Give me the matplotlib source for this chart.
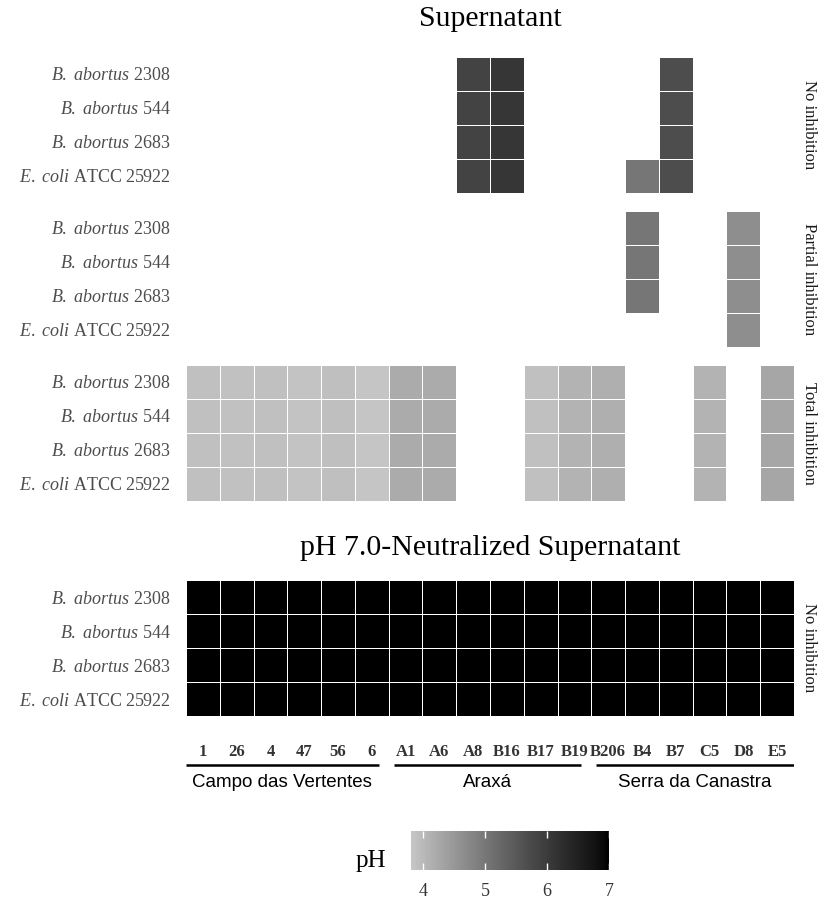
import numpy as np
import matplotlib
matplotlib.use("Agg")
import matplotlib.pyplot as plt
from matplotlib.colors import ListedColormap, Normalize

plt.rcParams['font.family'] = ['Liberation Serif', 'DejaVu Serif']
plt.rcParams['mathtext.fontset'] = 'custom'
plt.rcParams['mathtext.rm'] = 'Liberation Serif'
plt.rcParams['mathtext.it'] = 'Liberation Serif:italic'

# isolates (columns) and their origin
isolates = ["1", "26", "4", "47", "56", "6",
            "A1", "A6", "A8", "B16", "B17", "B19",
            "B206", "B4", "B7", "C5", "D8", "E5"]
group_names = ["Campo das Vertentes", "Araxá", "Serra da Canastra"]
group_sizes = [6, 6, 6]

strains = [r"$\mathit{B.}$ $\mathit{abortus}$ 2308", r"$\mathit{B.}$ $\mathit{abortus}$ 544",
           r"$\mathit{B.}$ $\mathit{abortus}$ 2683", r"$\mathit{E.}$ $\mathit{coli}$ ATCC 25922"]

# pH of each supernatant
ph_super = [3.89, 3.88, 3.89, 3.85, 3.91, 3.83,
            4.20, 4.20, 5.86, 6.10, 3.89, 4.08,
            4.14, 5.02, 5.69, 4.08, 4.64, 4.28]
ph_neutral = [7.0] * 18

# result per strain: N = no inhibition, P = partial, T = total
res_super = ["TTTTTTTTNNTTTPNTPT",
             "TTTTTTTTNNTTTPNTPT",
             "TTTTTTTTNNTTTPNTPT",
             "TTTTTTTTNNTTTNNTPT"]
res_neutral = ["N" * 18] * 4

categories = ["N", "P", "T"]
cat_labels = {"N": "No inhibition", "P": "Partial inhibition", "T": "Total inhibition"}

# grey gradient, linear in lightness (like ggplot's Lab interpolation)
def lstar_to_grey(L):
    Y = ((L + 16) / 116) ** 3 if L > 8 else L / 903.3
    return 12.92 * Y if Y <= 0.0031308 else 1.055 * Y ** (1 / 2.4) - 0.055

greys = [lstar_to_grey(L) for L in np.linspace(80, 0, 256)]
cmap = ListedColormap([(g, g, g) for g in greys])
norm = Normalize(vmin=3.8, vmax=7.0)

W, H = 818, 899
fig = plt.figure(figsize=(W / 100, H / 100), dpi=100)

def rect(x0, y0, x1, y1):
    return [x0 / W, 1 - y1 / H, (x1 - x0) / W, (y1 - y0) / H]

def panel(top, ph, res, cat):
    ax = fig.add_axes(rect(186, top, 794, top + 136))
    vals = np.full((4, 18), np.nan)
    for i, r in enumerate(res):
        for j, c in enumerate(r):
            if c == cat:
                vals[i, j] = ph[j]
    m = ax.pcolormesh(np.arange(19) - 0.5, np.arange(5) - 0.5,
                      np.ma.masked_invalid(vals), cmap=cmap, norm=norm,
                      edgecolors="white", linewidth=0.6)
    ax.set_xlim(-0.5, 17.5)
    ax.set_ylim(3.5, -0.5)
    ax.set_xticks([])
    ax.set_yticks(range(4))
    ax.set_yticklabels(strains, fontsize=13, color="#4d4d4d")
    ax.tick_params(axis="y", length=0, pad=11)
    for s in ax.spines.values():
        s.set_visible(False)
    ax.text(1.024, 0.5, cat_labels[cat], transform=ax.transAxes, rotation=-90,
            ha="center", va="center", fontsize=12, color="#1a1a1a")
    return m

fig.text(490 / W, 1 - 19 / H, "Supernatant", ha="center", va="center", fontsize=21.5)
for top, cat in zip([57, 211, 365], categories):
    panel(top, ph_super, res_super, cat)

fig.text(490 / W, 1 - 548 / H, "pH 7.0-Neutralized Supernatant",
         ha="center", va="center", fontsize=21.5)
m = panel(580, ph_neutral, res_neutral, "N")

# isolate labels and origin groups
axg = fig.add_axes(rect(186, 740, 794, 795))
axg.set_xlim(-0.5, 17.5)
axg.set_ylim(1, 0)
axg.axis("off")
for j, name in enumerate(isolates):
    axg.text(j, 0.22, name, ha="center", va="center", fontsize=12,
             fontweight="bold", color="#333333")
start = 0
for k, (gname, size) in enumerate(zip(group_names, group_sizes)):
    x0 = start - 0.5 + 0.15 if k > 0 else -0.5
    x1 = start + size - 0.5 - 0.3 if k < len(group_sizes) - 1 else 17.5
    axg.plot([x0, x1], [0.45, 0.45], color="black", lw=1.8, solid_capstyle="butt")
    axg.text((x0 + x1) / 2, 0.78, gname, ha="center", va="center",
             fontsize=13.5, family="Liberation Sans")
    start += size

# colour bar
cax = fig.add_axes(rect(411, 831, 609, 870))
cb = fig.colorbar(m, cax=cax, orientation="horizontal", ticks=[4, 5, 6, 7])
cb.outline.set_visible(False)
cax.tick_params(axis="x", direction="in", color="white", length=5, width=1,
                labelsize=13, labelcolor="#333333", pad=9, top=True)
fig.text(371 / W, 1 - 861 / H, "pH", ha="center", va="center", fontsize=18)

fig.savefig("out.png", dpi=100)
